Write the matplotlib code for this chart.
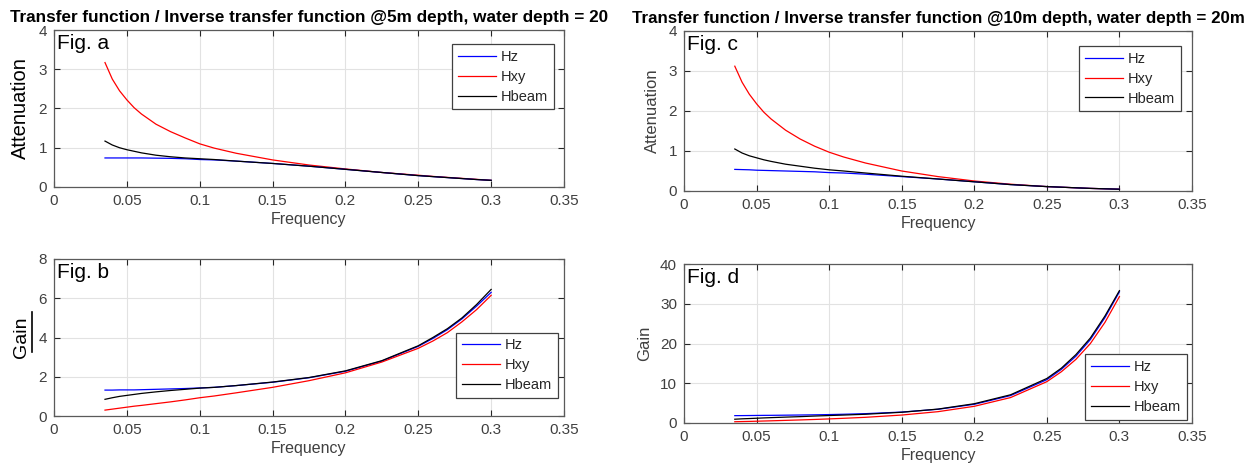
import matplotlib
matplotlib.use("Agg")
import matplotlib.pyplot as plt
from matplotlib.lines import Line2D

plt.rcParams['font.family'] = ['Liberation Sans', 'DejaVu Sans']

freq = [0.035, 0.04, 0.045, 0.05, 0.055, 0.06, 0.07, 0.08, 0.09, 0.1, 0.11,
        0.125, 0.15, 0.175, 0.2, 0.225, 0.25, 0.26, 0.27, 0.28, 0.29, 0.3]

# Fig. a : attenuation @5m depth
att5_hz = [0.74, 0.74, 0.74, 0.74, 0.74, 0.74, 0.735, 0.73, 0.72, 0.70, 0.69,
           0.66, 0.60, 0.53, 0.45, 0.37, 0.29, 0.265, 0.24, 0.215, 0.19, 0.17]
att5_hxy = [3.17, 2.75, 2.45, 2.22, 2.02, 1.86, 1.60, 1.41, 1.25, 1.10, 0.99,
            0.86, 0.69, 0.56, 0.46, 0.37, 0.30, 0.27, 0.245, 0.22, 0.195, 0.17]
att5_hbeam = [1.17, 1.07, 1.00, 0.95, 0.91, 0.87, 0.81, 0.77, 0.74, 0.72, 0.70,
              0.66, 0.60, 0.53, 0.45, 0.37, 0.29, 0.265, 0.24, 0.215, 0.19, 0.17]

# Fig. b : gain @5m depth
gain5_hz = [1.32, 1.32, 1.33, 1.33, 1.33, 1.34, 1.36, 1.38, 1.40, 1.43, 1.46,
            1.55, 1.72, 1.95, 2.28, 2.80, 3.55, 3.95, 4.40, 4.95, 5.60, 6.30]
gain5_hxy = [0.30, 0.35, 0.40, 0.45, 0.50, 0.54, 0.63, 0.72, 0.82, 0.93, 1.02,
             1.18, 1.46, 1.80, 2.20, 2.75, 3.45, 3.82, 4.25, 4.80, 5.42, 6.15]
gain5_hbeam = [0.85, 0.93, 1.00, 1.05, 1.10, 1.15, 1.23, 1.30, 1.36, 1.42, 1.46,
               1.55, 1.73, 1.96, 2.30, 2.82, 3.58, 4.00, 4.45, 5.00, 5.68, 6.45]

# Fig. c : attenuation @10m depth
att10_hz = [0.54, 0.535, 0.53, 0.52, 0.515, 0.51, 0.50, 0.49, 0.48, 0.46, 0.45,
            0.42, 0.36, 0.30, 0.23, 0.16, 0.11, 0.095, 0.08, 0.065, 0.055, 0.045]
att10_hxy = [3.12, 2.72, 2.42, 2.18, 1.97, 1.80, 1.52, 1.30, 1.12, 0.97, 0.85,
             0.70, 0.50, 0.36, 0.25, 0.17, 0.11, 0.095, 0.08, 0.065, 0.055, 0.045]
att10_hbeam = [1.05, 0.95, 0.88, 0.83, 0.78, 0.74, 0.67, 0.62, 0.57, 0.53, 0.50,
               0.45, 0.37, 0.30, 0.23, 0.16, 0.11, 0.095, 0.08, 0.065, 0.055, 0.045]

# Fig. d : gain @10m depth
gain10_hz = [1.85, 1.86, 1.88, 1.90, 1.92, 1.93, 1.97, 2.01, 2.06, 2.12, 2.20,
             2.35, 2.75, 3.45, 4.70, 6.90, 10.9, 13.5, 16.8, 21.0, 26.5, 33.0]
gain10_hxy = [0.32, 0.36, 0.40, 0.45, 0.50, 0.55, 0.66, 0.77, 0.89, 1.03, 1.18,
              1.43, 2.00, 2.85, 4.20, 6.40, 10.4, 12.9, 16.0, 20.0, 25.3, 31.8]
gain10_hbeam = [0.95, 1.05, 1.12, 1.20, 1.28, 1.35, 1.48, 1.60, 1.75, 1.88, 2.00,
                2.20, 2.70, 3.50, 4.85, 7.10, 11.2, 13.8, 17.2, 21.4, 26.9, 33.3]

series_names = ['Hz', 'Hxy', 'Hbeam']
series_colors = ['#0000ff', '#ff0000', '#000000']
xticks = [0, 0.05, 0.1, 0.15, 0.2, 0.25, 0.3, 0.35]
xticklabels = ['0', '0.05', '0.1', '0.15', '0.2', '0.25', '0.3', '0.35']

title_a = 'Transfer function / Inverse transfer function @5m depth, water depth = 20'
title_c = 'Transfer function / Inverse transfer function @10m depth, water depth = 20m'

W, H = 1251, 476
fig = plt.figure(figsize=(W / 100, H / 100), dpi=100)


def px_axes(x0, y0, x1, y1):
    return fig.add_axes([x0 / W, 1 - y1 / H, (x1 - x0) / W, (y1 - y0) / H])


grey = '#404040'


def style(ax, yticks, ymax):
    ax.set_xlim(0, 0.35)
    ax.set_ylim(0, ymax)
    ax.set_xticks(xticks)
    ax.set_xticklabels(xticklabels)
    ax.set_yticks(yticks)
    ax.set_yticklabels([str(v) for v in yticks])
    ax.tick_params(direction='in', length=4, width=0.8, top=True, right=True,
                   labelsize=11, colors='#262626', labelcolor=grey, pad=5)
    ax.grid(True, color='#e2e2e2', linewidth=0.8)
    ax.set_axisbelow(True)
    for s in ax.spines.values():
        s.set_color('#5a5a5a')
        s.set_linewidth(0.9)
    ax.set_xlabel('Frequency', fontsize=11.5, color=grey, labelpad=3)


def plot_series(ax, ys, order):
    handles = {}
    for i in order:
        h, = ax.plot(freq, ys[i], color=series_colors[i], linewidth=0.9)
        handles[i] = h
    return [handles[i] for i in range(3)]


def legend(ax, handles, loc, anchor):
    lg = ax.legend(handles, series_names, loc=loc, bbox_to_anchor=anchor,
                   borderaxespad=0, fontsize=10.5, handlelength=2.6,
                   handletextpad=0.35, labelspacing=0.4, borderpad=0.4,
                   fancybox=False, framealpha=1, edgecolor='#404040')
    lg.get_frame().set_linewidth(0.9)
    for t in lg.get_texts():
        t.set_color('#262626')


# Fig. a
axa = px_axes(54, 30, 564, 187)
style(axa, [0, 1, 2, 3, 4], 4)
ha = plot_series(axa, [att5_hz, att5_hxy, att5_hbeam], [1, 0, 2])
axa.set_ylabel('Attenuation', fontsize=14.5, color='black', labelpad=6)
axa.set_title(title_a, fontsize=12.3, fontweight='bold', pad=6)
axa.text(0.006, 0.975, 'Fig. a', transform=axa.transAxes, fontsize=15,
         va='top', ha='left')
legend(axa, ha, 'upper right', (0.98, 0.91))

# Fig. b
axb = px_axes(54, 259, 564, 416)
style(axb, [0, 2, 4, 6, 8], 8)
hb = plot_series(axb, [gain5_hz, gain5_hxy, gain5_hbeam], [0, 1, 2])
axb.set_ylabel('Gain', fontsize=14, color='black', labelpad=6)
axb.text(0.006, 0.975, 'Fig. b', transform=axb.transAxes, fontsize=15,
         va='top', ha='left')
legend(axb, hb, 'lower right', (0.988, 0.115))
fig.add_artist(Line2D([32 / W, 32 / W], [1 - 352 / H, 1 - 312 / H],
                      color='black', linewidth=1.2, transform=fig.transFigure))

# Fig. c
axc = px_axes(684, 31, 1192, 191)
style(axc, [0, 1, 2, 3, 4], 4)
hc = plot_series(axc, [att10_hz, att10_hxy, att10_hbeam], [1, 0, 2])
axc.set_ylabel('Attenuation', fontsize=12, color=grey, labelpad=6)
axc.set_title(title_c, fontsize=12.2, fontweight='bold', pad=6)
axc.text(0.006, 0.975, 'Fig. c', transform=axc.transAxes, fontsize=15,
         va='top', ha='left')
legend(axc, hc, 'upper right', (0.978, 0.906))

# Fig. d
axd = px_axes(684, 264, 1192, 423)
style(axd, [0, 10, 20, 30, 40], 40)
hd = plot_series(axd, [gain10_hz, gain10_hxy, gain10_hbeam], [0, 1, 2])
axd.set_ylabel('Gain', fontsize=12, color=grey, labelpad=6)
axd.text(0.006, 0.975, 'Fig. d', transform=axd.transAxes, fontsize=15,
         va='top', ha='left')
legend(axd, hd, 'lower right', (0.99, 0.02))

fig.savefig('out.png', dpi=100)
